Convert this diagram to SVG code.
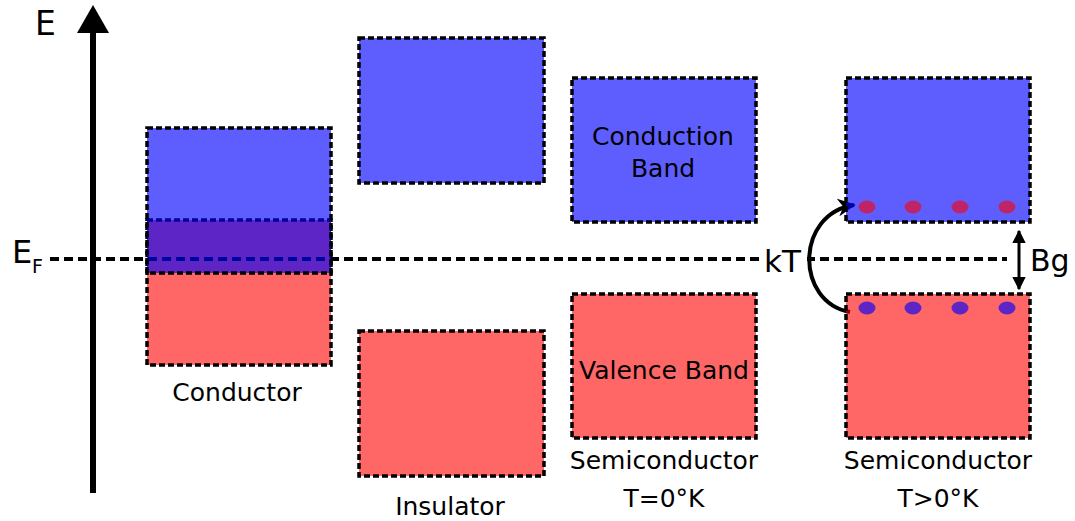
<svg xmlns="http://www.w3.org/2000/svg" width="1075" height="521" viewBox="0 0 1075 521">
<style>
text{font-family:"DejaVu Sans","Verdana",sans-serif;fill:#000}
.lbl{font-size:25px;text-anchor:middle}
.cb{fill:#0000ff;fill-opacity:0.63;stroke:#000;stroke-width:3.5;stroke-dasharray:6 3}
.vb{fill:#ff0000;fill-opacity:0.6;stroke:#000;stroke-width:3.5;stroke-dasharray:6 3}
.ed{fill:#ff0000;fill-opacity:0.6}
.ho{fill:#0000ff;fill-opacity:0.63}
</style>
<defs>
<marker id="ah" viewBox="0 0 10 10" refX="9" refY="5" markerWidth="4.5" markerHeight="4.5" orient="auto-start-reverse" markerUnits="strokeWidth">
<path d="M0,0 L10,5 L0,10 z" fill="#000"/>
</marker>
<marker id="ah2" viewBox="0 0 10 10" refX="9" refY="5" markerWidth="4.5" markerHeight="4.5" orient="auto" markerUnits="strokeWidth">
<path d="M0,0 L10,5 L0,10 L3,5 z" fill="#000"/>
</marker>
</defs>
<rect width="1075" height="521" fill="#fff"/>

<g id="axis">
<line x1="93" y1="493" x2="93" y2="30" stroke="#000" stroke-width="6"/>
<path d="M93,5 L109,33 L77,33 z" fill="#000"/>
<text x="35" y="35" font-size="33">E</text>
</g>

<g id="conductor">
<rect class="vb" x="147" y="220" width="184" height="145"/>
</g>

<g id="connectors">
<line x1="50" y1="259" x2="1007" y2="259" stroke="#000" stroke-width="4" stroke-dasharray="9 5"/>
<rect x="761" y="240" width="46" height="38" fill="#fff"/>
<path d="M850,312 C795,302 795,214 854,205" fill="none" stroke="#000" stroke-width="4" marker-end="url(#ah2)"/>
<line x1="1019" y1="231" x2="1019" y2="289" stroke="#000" stroke-width="3" marker-start="url(#ah)" marker-end="url(#ah)"/>
</g>

<g id="fermi-label">
<text x="12" y="263" font-size="32">E</text>
<text x="32" y="273" font-size="19">F</text>
</g>

<g id="conductor-top">
<rect class="cb" x="147" y="128" width="184" height="145"/>
<text class="lbl" x="237" y="401">Conductor</text>
</g>

<g id="insulator">
<rect class="cb" x="359" y="38" width="185" height="145"/>
<rect class="vb" x="359" y="331" width="185" height="145"/>
<text class="lbl" x="450" y="515">Insulator</text>
</g>

<g id="semiconductor-0">
<rect class="cb" x="572" y="78" width="184" height="144"/>
<rect class="vb" x="572" y="294" width="184" height="144"/>
<text class="lbl" x="663" y="145">Conduction</text>
<text class="lbl" x="663" y="177">Band</text>
<text class="lbl" x="664" y="379">Valence Band</text>
<text class="lbl" x="664" y="469">Semiconductor</text>
<text class="lbl" x="664" y="507">T=0°K</text>
</g>

<g id="semiconductor-t">
<rect class="cb" x="846" y="78" width="184" height="144"/>
<rect class="vb" x="846" y="294" width="184" height="144"/>
<ellipse class="ed" cx="867" cy="207" rx="8.5" ry="6.5"/>
<ellipse class="ed" cx="913" cy="207" rx="8.5" ry="6.5"/>
<ellipse class="ed" cx="960" cy="207" rx="8.5" ry="6.5"/>
<ellipse class="ed" cx="1007" cy="207" rx="8.5" ry="6.5"/>
<ellipse class="ho" cx="867" cy="308" rx="8.5" ry="6.5"/>
<ellipse class="ho" cx="913" cy="308" rx="8.5" ry="6.5"/>
<ellipse class="ho" cx="960" cy="308" rx="8.5" ry="6.5"/>
<ellipse class="ho" cx="1007" cy="308" rx="8.5" ry="6.5"/>
<text class="lbl" x="938" y="469">Semiconductor</text>
<text class="lbl" x="938" y="507">T&gt;0°K</text>
</g>

<g id="labels">
<text x="764" y="272" font-size="31">kT</text>
<text x="1030" y="271" font-size="30">Bg</text>
</g>
</svg>
